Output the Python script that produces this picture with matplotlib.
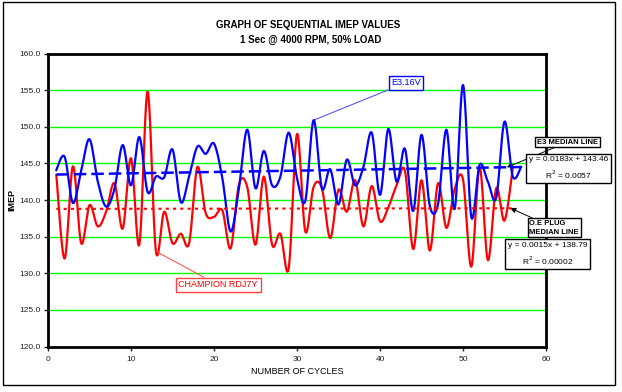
import numpy as np
import matplotlib.pyplot as plt
from matplotlib.patches import Rectangle

plt.rcParams['font.family'] = ['Liberation Sans', 'DejaVu Sans']

# IMEP per cycle
cycles_e3 = list(range(1, 58))
imep_e3 = [144.1, 145.9, 139.6, 144.0, 148.3, 142.5, 139.1, 141.5, 147.5, 142.0,
           148.6, 141.1, 143.2, 143.1, 146.9, 139.7, 143.2, 147.3, 146.3, 147.7,
           143.0, 135.7, 141.6, 149.6, 141.6, 146.7, 142.0, 143.2, 149.2, 143.0,
           139.9, 150.9, 141.6, 144.2, 139.4, 145.5, 142.0, 144.5, 149.2, 140.7,
           149.7, 142.5, 147.0, 138.5, 148.9, 139.2, 139.5, 149.6, 138.8, 155.7,
           137.7, 144.8, 142.5, 140.3, 150.7, 143.2, 144.5]

cycles_oe = list(range(1, 57))
imep_oe = [143.4, 132.0, 144.6, 134.1, 139.3, 136.4, 138.4, 142.3, 136.1, 145.7,
           133.9, 154.8, 133.0, 138.4, 134.1, 135.4, 134.1, 144.5, 138.2, 137.7,
           138.6, 133.4, 142.1, 141.8, 133.9, 143.2, 133.9, 135.4, 130.7, 149.0,
           135.7, 141.8, 141.6, 134.8, 141.4, 138.4, 142.7, 136.4, 141.9, 137.1,
           139.0, 142.0, 144.0, 133.3, 142.7, 133.1, 142.3, 136.2, 141.5, 142.8,
           130.9, 144.5, 131.8, 141.6, 137.2, 144.4]

# trend line coefficients shown on the chart
e3_slope, e3_icpt, e3_r2 = 0.0183, 143.46, "0.0057"
oe_slope, oe_icpt, oe_r2 = 0.0015, 138.79, "0.00002"

x_ticks = [0, 10, 20, 30, 40, 50, 60]
y_ticks = [120, 125, 130, 135, 140, 145, 150, 155, 160]


def smooth(xs, ys, n=20):
    # excel style smoothed line (bezier through the points)
    xs = np.asarray(xs, float)
    ys = np.asarray(ys, float)
    px = np.concatenate([[xs[0]], xs, [xs[-1]]])
    py = np.concatenate([[ys[0]], ys, [ys[-1]]])
    t = np.linspace(0, 1, n, endpoint=False)
    outx, outy = [], []
    for i in range(1, len(px) - 2):
        for p, out in ((px, outx), (py, outy)):
            p0, p1, p2, p3 = p[i - 1], p[i], p[i + 1], p[i + 2]
            c1 = p1 + (p2 - p0) / 6
            c2 = p2 - (p3 - p1) / 6
            out.extend((1 - t) ** 3 * p1 + 3 * (1 - t) ** 2 * t * c1
                       + 3 * (1 - t) * t ** 2 * c2 + t ** 3 * p2)
    outx.append(xs[-1])
    outy.append(ys[-1])
    return outx, outy


fig = plt.figure(figsize=(6.22, 3.92), dpi=100)
ax = fig.add_axes([0.0772, 0.116, 0.8006, 0.7475])
fig.patches.append(Rectangle((3 / 622, 7 / 392), 612 / 622, 383 / 392, transform=fig.transFigure,
                             fill=False, ec='black', lw=1))

for yv in y_ticks[1:-1]:
    ax.axhline(yv, color='#00ff00', lw=1, zorder=1)

bx, by = smooth(cycles_e3, imep_e3)
rx, ry = smooth(cycles_oe, imep_oe)
ax.plot(rx, ry, color='#ff0000', lw=1.6, zorder=3)
ax.plot(bx, by, color='#0000ff', lw=1.6, zorder=4)

tx = np.array([cycles_e3[0], cycles_e3[-1]])
ax.plot(tx, e3_slope * tx + e3_icpt, color='#0000ff', lw=1.8, dashes=(5, 2), zorder=5)
tx = np.array([cycles_oe[0], cycles_oe[-1]])
ax.plot(tx, oe_slope * tx + oe_icpt, color='#ff0000', lw=1.5, dashes=(1.5, 2), zorder=5)

ax.set_xlim(0, 60)
ax.set_ylim(120, 160)
ax.set_xticks(x_ticks)
ax.set_yticks(y_ticks)
ax.set_yticklabels(['%.1f' % v for v in y_ticks])
ax.tick_params(labelsize=6, length=3, width=1, colors='#222222', pad=2)
ax.tick_params(axis='x', pad=4)
for s in ax.spines.values():
    s.set_linewidth(2)

ax.set_xlabel('NUMBER OF CYCLES', fontsize=6.5, labelpad=3)
ax.set_ylabel('IMEP', fontsize=6.5, fontweight='bold')
ax.yaxis.set_label_coords(-0.063, 0.5)
fig.text(0.495, 0.936, 'GRAPH OF SEQUENTIAL IMEP VALUES', ha='center', va='center',
         fontsize=7, fontweight='bold')
fig.text(0.5, 0.898, '1 Sec @ 4000 RPM, 50% LOAD', ha='center', va='center',
         fontsize=7, fontweight='bold')

# series labels
ax.annotate('E3.16V', xy=(32, imep_e3[31]), xytext=(43.1, 156.0), fontsize=6.5, color='#0000ff',
            ha='center', va='center',
            bbox=dict(boxstyle='square,pad=0.25', fc='white', ec='#0000ff', lw=1),
            arrowprops=dict(arrowstyle='-', color='#4444ff', lw=0.7, shrinkA=0, shrinkB=0))
ax.annotate('CHAMPION RDJ7Y', xy=(13, imep_oe[12]), xytext=(20.5, 128.4), fontsize=6.5,
            color='#ff0000', ha='center', va='center',
            bbox=dict(boxstyle='square,pad=0.3', fc='white', ec='#ff4444', lw=1),
            arrowprops=dict(arrowstyle='-', color='#ff4444', lw=0.7, shrinkA=0, shrinkB=0))

# trend line labels
ax.annotate('E3 MEDIAN LINE', xy=(55.3, e3_slope * 55.3 + e3_icpt), xytext=(62.6, 147.9),
            fontsize=5.5, fontweight='bold', ha='center', va='center', annotation_clip=False,
            bbox=dict(boxstyle='square,pad=0.2', fc='white', ec='black', lw=1),
            arrowprops=dict(arrowstyle='-|>', color='black', lw=0.7, mutation_scale=8,
                            shrinkA=0, shrinkB=0))
ax.text(62.7, 144.3, 'y = %.4fx + %.2f\nR$^2$ = %s' % (e3_slope, e3_icpt, e3_r2), fontsize=6,
        ha='center', va='center', linespacing=1.5, clip_on=False,
        bbox=dict(boxstyle='square,pad=0.3', fc='white', ec='black', lw=1))
ax.annotate('O.E PLUG\nMEDIAN LINE', xy=(55.7, 138.9), xytext=(58.0, 136.2),
            fontsize=5.5, fontweight='bold', ha='left', va='center', annotation_clip=False,
            linespacing=1.4,
            bbox=dict(boxstyle='square,pad=0.2', fc='white', ec='black', lw=1),
            arrowprops=dict(arrowstyle='-|>', color='black', lw=0.7, mutation_scale=8,
                            shrinkA=0, shrinkB=0))
ax.text(60.2, 132.6, 'y = %.4fx + %.2f\nR$^2$ = %s' % (oe_slope, oe_icpt, oe_r2), fontsize=6,
        ha='center', va='center', linespacing=1.5, clip_on=False,
        bbox=dict(boxstyle='square,pad=0.3', fc='white', ec='black', lw=1))

fig.savefig('out.png', dpi=100)
